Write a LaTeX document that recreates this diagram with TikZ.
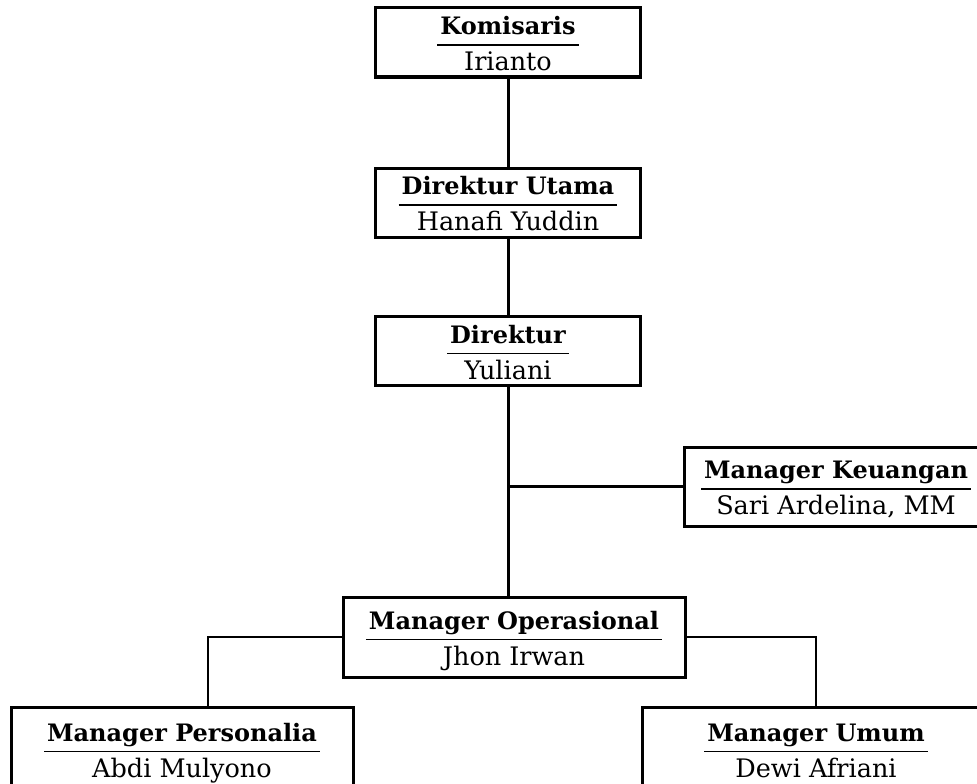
\documentclass[tikz,border=0pt]{standalone}
\usepackage{fontspec}
\setmainfont{DejaVu Serif}

\begin{document}
\begin{tikzpicture}[x=1pt,y=-1pt,
  kotak/.style={draw,line width=3pt,inner sep=0pt,minimum height=69pt,
    font=\fontsize{24}{28}\selectfont},
  garis/.style={line width=3pt},
  cabang/.style={line width=1.5pt}]

\newcommand{\jabatan}[2]
{%
\setbox0\hbox{\bfseries #1}%
\raisebox{-11pt}[0pt][0pt]{\begin{tabular}{@{}c@{}}
\copy0\\[-17pt]
\rule{\dimexpr\wd0+6pt\relax}{1.5pt}\\[-3pt]
{\fontsize{25.5}{29}\selectfont #2}
\end{tabular}}%
}

\clip (0,0) rectangle (977,784);

% pimpinan
\node[kotak,minimum width=265pt] (kom) at (508,42.5) {\jabatan{Komisaris}{Irianto}};
\node[kotak,minimum width=265pt] (dirut) at (508,202.5) {\jabatan{Direktur Utama}{Hanafi Yuddin}};
\node[kotak,minimum width=265pt] (dir) at (508,351) {\jabatan{Direktur}{Yuliani}};

% manager
\node[kotak,minimum width=304pt,minimum height=79pt] (keu) at (836,486.5) {\jabatan{Manager Keuangan}{Sari Ardelina, MM}};
\node[kotak,minimum width=342pt,minimum height=80pt] (ops) at (514,637) {\jabatan{Manager Operasional}{Jhon Irwan}};
\node[kotak,minimum width=342pt,minimum height=84pt] (pers) at (182,749) {\jabatan{Manager Personalia}{Abdi Mulyono}};
\node[kotak,minimum width=348pt,minimum height=84pt] (umum) at (816,749) {\jabatan{Manager Umum}{Dewi Afriani}};

% garis
\draw[garis] (kom) -- (dirut);
\draw[garis] (dirut) -- (dir);
\draw[garis] (dir.south) -- (dir.south |- ops.north);
\draw[garis] (dir.south |- keu.west) -- (keu.west);
\draw[cabang] (ops.west) -| ([xshift=26pt]pers.north);
\draw[cabang] (ops.east) -| (umum.north);

\end{tikzpicture}
\end{document}
